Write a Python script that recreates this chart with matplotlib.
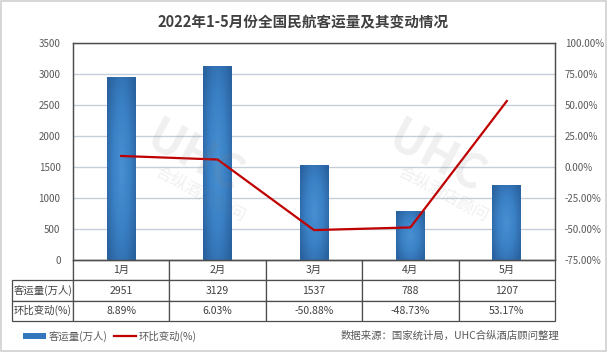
import numpy as np
import matplotlib
matplotlib.use("Agg")
import matplotlib.pyplot as plt
from matplotlib.patches import Rectangle, Patch
from matplotlib.lines import Line2D
from matplotlib.colors import LinearSegmentedColormap

plt.rcParams['font.family'] = ['Noto Sans CJK SC', 'DejaVu Sans']

months = ['1月', '2月', '3月', '4月', '5月']
passengers = [2951, 3129, 1537, 788, 1207]
change_pct = [8.89, 6.03, -50.88, -48.73, 53.17]
bar_label = '客运量(万人)'
line_label = '环比变动(%)'
title = '2022年1-5月份全国民航客运量及其变动情况'
source = '数据来源：国家统计局，UHC合纵酒店顾问整理'

txt_color = '#595959'
grid_color = '#c5cedb'
frame_color = '#4d4d4d'

fig = plt.figure(figsize=(6.07, 3.52), dpi=100)
ax = fig.add_axes([73 / 607, 1 - 260 / 352, 482 / 607, 217 / 352])
ax2 = ax.twinx()

x = np.arange(len(months))
bars = ax.bar(x, passengers, width=0.30, color='#3478bb', zorder=2)

# gradient fill for bars: darker at edges, lighter toward the middle
cmap = LinearSegmentedColormap.from_list('g', ['#2a62a0', '#3a80c4', '#4790d2'])
u = np.linspace(-1, 1, 60)
v = np.linspace(-1, 1, 120)
U, V = np.meshgrid(u, v)
grad = 1 - np.clip(np.sqrt(0.7 * U ** 2 + 0.5 * V ** 2), 0, 1)
for b in bars:
    b.set_facecolor('none')
    bx, by = b.get_x(), b.get_y()
    im = ax.imshow(grad, cmap=cmap, aspect='auto', zorder=2,
                   extent=[bx, bx + b.get_width(), by, by + b.get_height()])
    im.set_clip_path(b)

ax.set_xlim(-0.5, len(months) - 0.5)
ax.set_ylim(0, 3500)
ax.set_yticks(range(0, 3501, 500))
ax.set_xticks([])
ax.grid(axis='y', color=grid_color, linewidth=1, zorder=0)
ax.set_axisbelow(True)

ax2.plot(x, change_pct, color='#c00000', linewidth=1.6, zorder=3)
ax2.set_ylim(-75, 100)
ax2.set_yticks(range(-75, 101, 25))
ax2.set_yticklabels([f'{v:.2f}%' for v in range(-75, 101, 25)])

for a in (ax, ax2):
    a.tick_params(length=0, labelsize=7, colors=txt_color)
    for s in a.spines.values():
        s.set_color(frame_color)
        s.set_linewidth(0.9)
ax.tick_params(axis='y', pad=9)
ax2.tick_params(axis='y', pad=7)

# data table under the chart
rows = [[''] + months,
        [bar_label] + [str(v) for v in passengers],
        [line_label] + [f'{v:.2f}%' for v in change_pct]]
col_w = [61] + [96.4] * len(months)
tbl = ax.table(cellText=rows, cellLoc='center', colWidths=col_w,
               bbox=[-61 / 482, -61 / 217, 543 / 482, 61 / 217])
tbl.auto_set_font_size(False)
tbl.set_fontsize(7.5)
for (r, c), cell in tbl.get_celld().items():
    cell.set_edgecolor(frame_color)
    cell.set_linewidth(0.9)
    cell.get_text().set_color('#404040')
    if r == 0 and c == 0:
        cell.visible_edges = 'R'
    if c == 0 and r > 0:
        cell.get_text().set_ha('left')
        cell.PAD = 0.02

fig.text(0.5, 1 - 22 / 352, title, ha='center', va='center',
         fontsize=10.5, fontweight='bold', color='#404040')

# watermark
for wx in (0.32, 0.72):
    fig.text(wx, 0.55, 'UHC', fontsize=34, fontweight='bold', fontstyle='italic',
             color='#808080', alpha=0.12, rotation=-28, ha='center', va='center')
    fig.text(wx + 0.01, 0.45, '合纵酒店顾问', fontsize=12, color='#808080',
             alpha=0.12, rotation=-28, ha='center', va='center')

handles = [Patch(facecolor='#3478bb', edgecolor='none'),
           Line2D([], [], color='#c00000', linewidth=1.6)]
fig.legend(handles, [bar_label, line_label], loc='center left',
           bbox_to_anchor=(14 / 607, 1 - 336 / 352), ncol=2, frameon=False,
           fontsize=7.5, handlelength=2.2, handleheight=0.5, handletextpad=0.2,
           columnspacing=0.6, labelcolor=txt_color)
fig.text(559 / 607, 1 - 336 / 352, source, ha='right', va='center',
         fontsize=7.5, color=txt_color)

fig.add_artist(Rectangle((0.001, 0.002), 0.997, 0.996, transform=fig.transFigure,
                         fill=False, edgecolor='#d0d0d0', linewidth=1.2))

fig.savefig('out.png', dpi=100)
